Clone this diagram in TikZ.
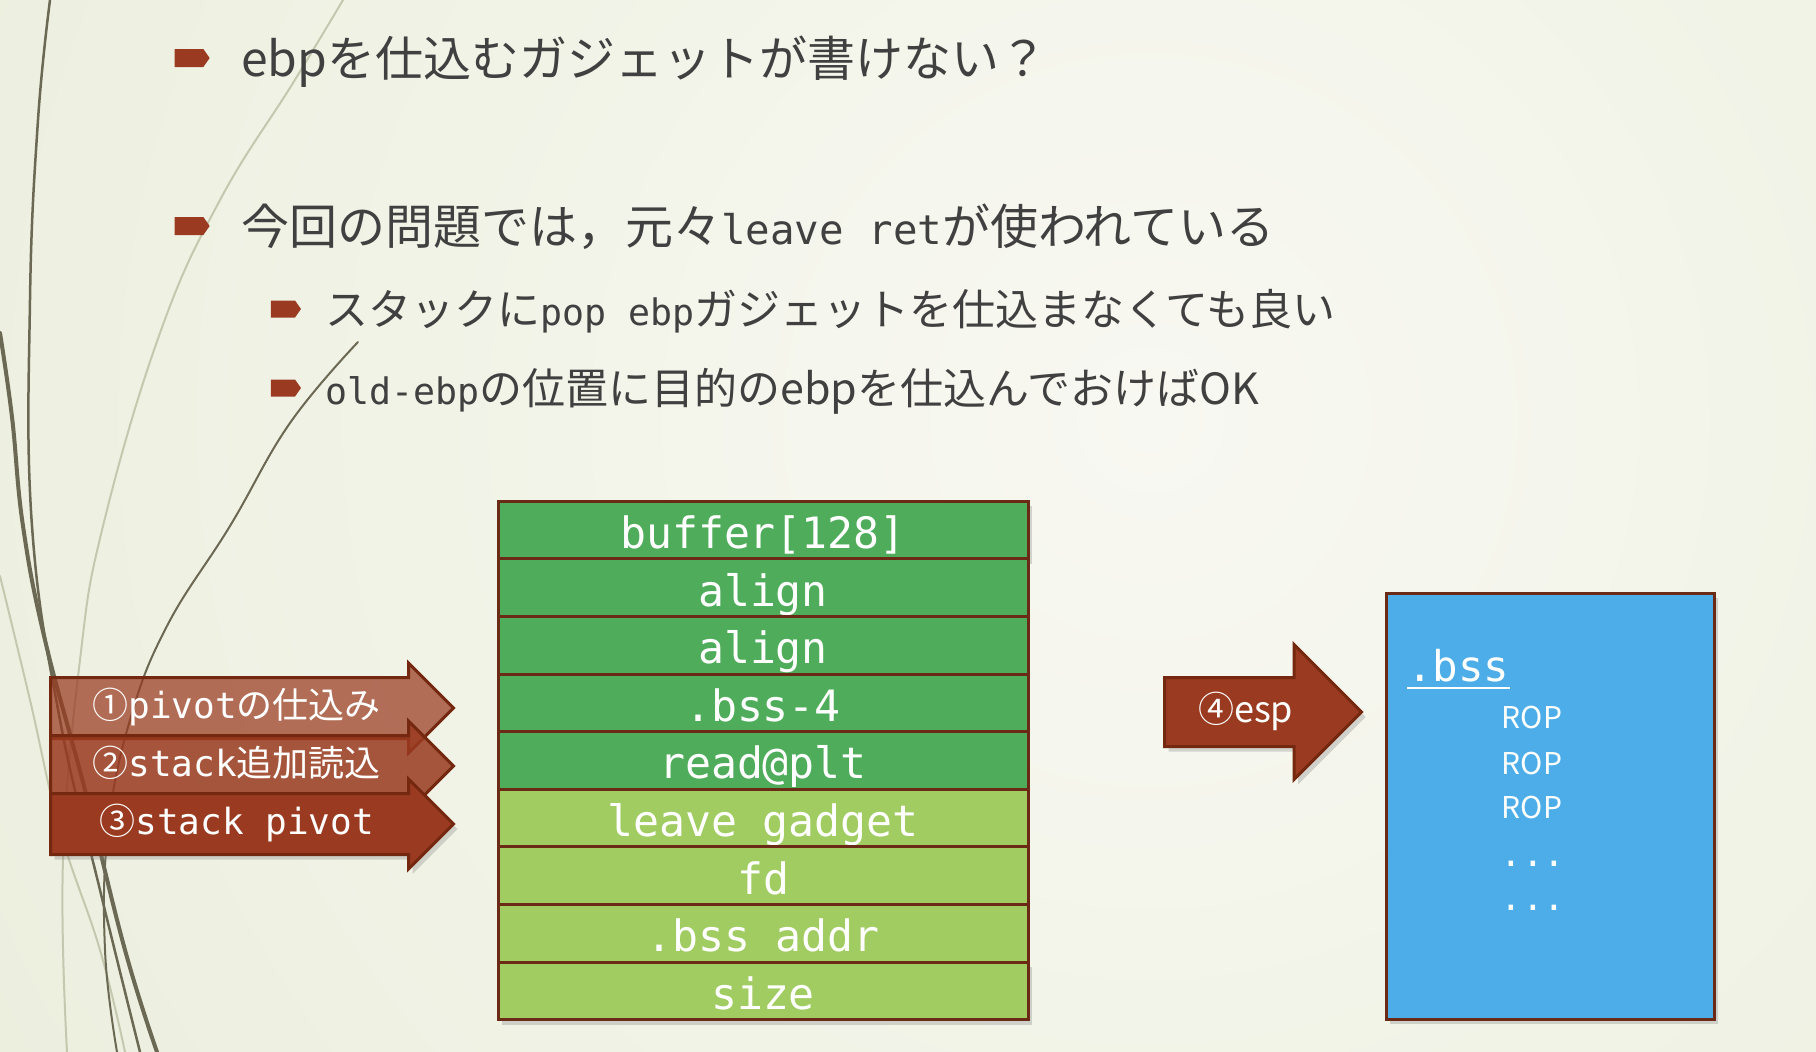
\documentclass[tikz,border=0pt]{standalone}
\usepackage{fontspec}
\setmainfont{Noto Sans CJK JP}
\setmonofont[Scale=0.85]{DejaVu Sans Mono}
\usetikzlibrary{positioning,shapes.arrows,shapes.symbols,shadows}
\definecolor{rustFill}{HTML}{9A3A20}
\definecolor{rustStroke}{HTML}{74280F}
\definecolor{hotFill}{HTML}{4FAC5B}
\definecolor{coldFill}{HTML}{A0CC62}
\definecolor{cellStroke}{HTML}{6B2A16}
\definecolor{bssFill}{HTML}{4DADE8}
\definecolor{textGrey}{HTML}{404040}
\definecolor{bgInner}{HTML}{F8F8F2}
\definecolor{bgOuter}{HTML}{E1E7CC}
\definecolor{wispDark}{HTML}{6B6853}
\definecolor{wispLight}{HTML}{C4C8AE}
\newcommand{\arrcode}[1]{{\fontsize{42.4}{50}\selectfont\ttfamily #1}}

\begin{document}
\begin{tikzpicture}[
  x=1pt, y=-1pt,
  bul/.style     ={shape=signal, signal to=east, signal pointer angle=110, fill=rustFill, inner sep=0pt, minimum width=35pt, minimum height=18pt},
  subbul/.style  ={bul, minimum width=30pt, minimum height=17pt},
  toptext/.style ={anchor=base west, inner sep=0pt, text=textGrey, font=\fontsize{48}{56}\selectfont},
  subtext/.style ={toptext, font=\fontsize{43}{50}\selectfont},
  cell/.style    ={draw=cellStroke, line width=3pt, outer sep=0pt, inner sep=0pt, minimum width=530pt, minimum height=57.6pt, text height=40pt, text depth=3pt, text=white, font=\fontsize{50.8}{58}\selectfont\ttfamily},
  hot/.style     ={cell, fill=hotFill},
  cold/.style    ={cell, fill=coldFill},
  pivot/.style   ={single arrow, single arrow head extend=14.5pt, draw=rustStroke, fill=rustFill, line width=3pt, anchor=tail, inner xsep=6pt, inner ysep=9pt, text height=30pt, text depth=10pt, minimum height=403pt, text=white, text opacity=1, font=\fontsize{36}{42}\selectfont},
  esparr/.style  ={pivot, single arrow head extend=33pt, inner ysep=13pt, minimum height=197pt},
  shade/.style   ={drop shadow={opacity=0.3, shadow xshift=4pt, shadow yshift=-5pt}},
  bssbox/.style  ={draw=cellStroke, fill=bssFill, line width=3pt, minimum width=328pt, minimum height=426pt, inner sep=0pt},
  rop/.style     ={inner sep=0pt, text=white, font=\fontsize{30}{36}\selectfont},
  more/.style    ={anchor=base, inner sep=0pt, text=white, font=\fontsize{42.4}{50}\selectfont\ttfamily},
  wisp/.style    ={wispDark, line width=3pt, line cap=round},
  wispthin/.style={wispLight, line width=2pt, line cap=round},
]

\useasboundingbox (0,0) rectangle (1816,1052);

% ============ Slide background ============
\begin{scope}
  \clip (0,0) rectangle (1816,1052);
  \shade[inner color=bgInner, outer color=bgOuter] (1150,420) circle (2500);
  \draw[wispthin] plot[smooth, tension=0.7] coordinates {(343,0) (293,83) (220,200) (160,333) (103,526) (80,660) (63,860) (67,1052)};
  \draw[wispthin] plot[smooth, tension=0.7] coordinates {(0,576) (30,700) (60,830) (100,950) (125,1052)};
  \draw[wisp, line width=2.5pt] plot[smooth, tension=0.7] coordinates {(50,0) (38,120) (30,300) (32,526) (60,720) (100,890) (140,1052)};
  \draw[wisp, line width=4pt] plot[smooth, tension=0.7] coordinates {(0,333) (12,417) (23,526) (45,640) (85,790) (125,950) (157,1052)};
  \draw[wisp, line width=2pt] plot[smooth, tension=0.7] coordinates {(358,342) (290,423) (230,526) (167,626) (130,720) (108,830) (105,950) (117,1052)};
\end{scope}

% ============ Bullet text ============
\node[bul] (b1) at (189,58) {};
\node[toptext] (t1) at (241,76) {ebpを仕込むガジェットが書けない？};
\node[bul] (b2) at (189,226) {};
\node[toptext] (t2) at (241,244) {今回の問題では，元々\texttt{leave ret}が使われている};
\node[subbul] (b3) at (283,309) {};
\node[subtext] (t3) at (325,325) {スタックに\texttt{pop ebp}ガジェットを仕込まなくても良い};
\node[subbul] (b4) at (283,388) {};
\node[subtext] (t4) at (325,404) {\texttt{old-ebp}の位置に目的のebpを仕込んでおけばOK};

% ============ Stack ============
\node[hot, shade] (s1) at (763,530) {buffer[128]};
\node[hot,  below=0pt of s1] (s2) {align};
\node[hot,  below=0pt of s2] (s3) {align};
\node[hot,  below=0pt of s3] (s4) {.bss-4};
\node[hot,  below=0pt of s4] (s5) {read@plt};
\node[cold, below=0pt of s5] (s6) {leave gadget};
\node[cold, below=0pt of s6] (s7) {fd};
\node[cold, below=0pt of s7] (s8) {.bss addr};
\node[cold, below=0pt of s8, shade] (s9) {size};

% ============ Steps ============
\node[pivot, fill opacity=0.72] (p1) at (49,708) {①\arrcode{pivot}の仕込み};
\node[pivot, fill opacity=0.85] (p2) at (49,766) {②\arrcode{stack}追加読込};
\node[pivot, shade] (p3) at (49,824) {③\arrcode{stack pivot}};

\node[esparr, shade] (esp) at (1163,712) {④esp};

% ============ .bss area ============
\node[bssbox, shade] (bss) at (1550,806) {};
\node[anchor=base west, inner xsep=0pt, inner ysep=6pt, text=white, font=\fontsize{49.9}{58}\selectfont\ttfamily] (bsstitle) at (1407,681) {.bss};
\draw[white, line width=2.5pt] (bsstitle.south west) -- (bsstitle.south east);
\node[rop] (r1) at (1532,717) {ROP};
\node[rop] (r2) at (1532,763) {ROP};
\node[rop] (r3) at (1532,807) {ROP};
\node[more] (m1) at (1533,866) {...};
\node[more] (m2) at (1533,910) {...};

\end{tikzpicture}
\end{document}
